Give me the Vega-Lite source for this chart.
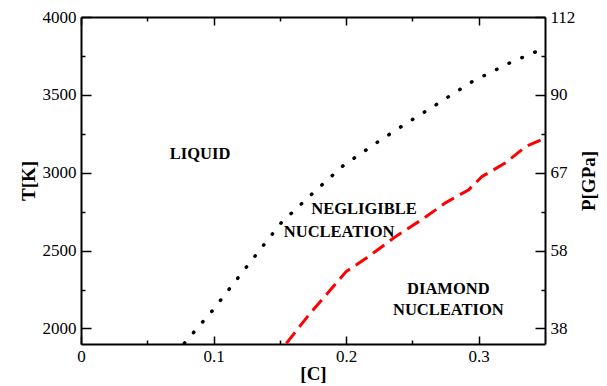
{
  "$schema": "https://vega.github.io/schema/vega-lite/v6.json",
  "width": 464,
  "height": 327,
  "autosize": {"type": "none"},
  "padding": {"left": 81, "top": 17, "right": 62, "bottom": 42},
  "background": "white",
  "config": {
    "font": "Liberation Serif",
    "view": {"stroke": null},
    "axis": {
      "grid": false,
      "domainColor": "black",
      "domainWidth": 2,
      "tickColor": "black",
      "tickWidth": 1.5,
      "labelFont": "Liberation Serif",
      "labelFontSize": 17,
      "labelColor": "black",
      "labelFlush": false,
      "labelOverlap": false,
      "titleFont": "Liberation Serif",
      "titleFontSize": 19,
      "titleFontWeight": "bold",
      "titleColor": "black"
    }
  },
  "datasets": {
    "black": [
      {"c": 0.078, "t": 1905},
      {"c": 0.0992, "t": 2115},
      {"c": 0.1316, "t": 2468},
      {"c": 0.1511, "t": 2679},
      {"c": 0.1744, "t": 2865},
      {"c": 0.1977, "t": 3045},
      {"c": 0.2241, "t": 3199},
      {"c": 0.2414, "t": 3295},
      {"c": 0.2677, "t": 3436},
      {"c": 0.2947, "t": 3583},
      {"c": 0.3233, "t": 3705},
      {"c": 0.3429, "t": 3776}
    ],
    "red": [
      {"c": 0.1549, "t": 1904},
      {"c": 0.1722, "t": 2090},
      {"c": 0.2, "t": 2365},
      {"c": 0.2158, "t": 2455},
      {"c": 0.2383, "t": 2596},
      {"c": 0.2571, "t": 2699},
      {"c": 0.2752, "t": 2808},
      {"c": 0.2925, "t": 2891},
      {"c": 0.3023, "t": 2974},
      {"c": 0.3203, "t": 3064},
      {"c": 0.3353, "t": 3167},
      {"c": 0.3474, "t": 3212}
    ],
    "labels": [
      {"c": 0.0898, "t": 3122, "label": "LIQUID"},
      {"c": 0.2135, "t": 2769, "label": "NEGLIGIBLE"},
      {"c": 0.1947, "t": 2622, "label": "NUCLEATION"},
      {"c": 0.2771, "t": 2256, "label": "DIAMOND"},
      {"c": 0.2771, "t": 2119, "label": "NUCLEATION"}
    ]
  },
  "resolve": {"axis": {"x": "independent", "y": "independent"}},
  "layer": [
    {
      "data": {"name": "black"},
      "mark": {"type": "line", "color": "black", "strokeWidth": 3.5, "strokeDash": [0.5, 13.5], "strokeCap": "round", "clip": true},
      "encoding": {
        "x": {
          "field": "c", "type": "quantitative",
          "scale": {"domain": [0, 0.35], "nice": false, "zero": false},
          "axis": {
            "orient": "bottom",
            "title": "[C]",
            "values": [0, 0.05, 0.1, 0.15, 0.2, 0.25, 0.3],
            "tickSize": {"condition": {"test": "abs(datum.value*10 - round(datum.value*10)) < 0.001", "value": -8}, "value": -4},
            "labelPadding": 12,
            "labelFont": "Liberation Serif",
            "labelFontSize": 17,
            "labelExpr": "abs(datum.value*10 - round(datum.value*10)) < 0.001 ? (datum.value == 0 ? '0' : format(datum.value, '.1f')) : ''",
            "titleFont": "Liberation Serif",
            "titlePadding": -4
          }
        },
        "y": {
          "field": "t", "type": "quantitative",
          "scale": {"domain": [1900, 4000], "nice": false, "zero": false},
          "axis": {
            "orient": "left",
            "title": "T[K]",
            "values": [2000, 2250, 2500, 2750, 3000, 3250, 3500, 3750, 4000],
            "tickSize": {"condition": {"test": "datum.value % 500 == 0", "value": -10}, "value": -4},
            "labelPadding": 15,
            "labelFont": "Liberation Serif",
            "labelFontSize": 17,
            "labelExpr": "datum.value % 500 == 0 ? format(datum.value, 'd') : ''",
            "titleFont": "Liberation Serif",
            "titlePadding": 4
          }
        }
      }
    },
    {
      "data": {"name": "red"},
      "mark": {"type": "line", "color": "#ff0000", "strokeWidth": 3, "strokeDash": [14, 7], "clip": true},
      "encoding": {
        "x": {
          "field": "c", "type": "quantitative",
          "axis": {
            "orient": "top",
            "title": null,
            "values": [0, 0.05, 0.1, 0.15, 0.2, 0.25, 0.3],
            "tickSize": {"condition": {"test": "abs(datum.value*10 - round(datum.value*10)) < 0.001", "value": -8}, "value": -4},
            "labels": false
          }
        },
        "y": {
          "field": "t", "type": "quantitative",
          "axis": {
            "orient": "right",
            "title": "P[GPa]",
            "titleAngle": 270,
            "titleFont": "Liberation Serif",
            "values": [2000, 2250, 2500, 2750, 3000, 3250, 3500, 3750, 4000],
            "tickSize": {"condition": {"test": "datum.value % 500 == 0", "value": -10}, "value": -4},
            "labelPadding": 15,
            "labelFont": "Liberation Serif",
            "labelFontSize": 17,
            "labelExpr": "datum.value == 4000 ? '112' : datum.value == 3500 ? '90' : datum.value == 3000 ? '67' : datum.value == 2500 ? '58' : datum.value == 2000 ? '38' : ''",
            "titlePadding": 24
          }
        }
      }
    },
    {
      "data": {"name": "labels"},
      "mark": {"type": "text", "font": "Liberation Serif", "fontWeight": "bold", "fontSize": 16.5, "color": "black", "align": "center", "baseline": "middle"},
      "encoding": {
        "x": {"field": "c", "type": "quantitative", "axis": null},
        "y": {"field": "t", "type": "quantitative", "axis": null},
        "text": {"field": "label"}
      }
    }
  ]
}
